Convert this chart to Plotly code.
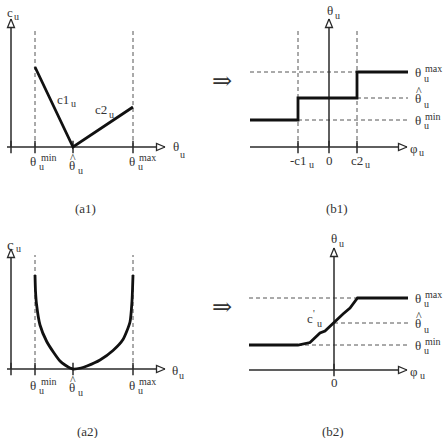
import plotly.graph_objects as go

# ---------------- data ----------------
# (a1) piecewise-linear cost c_u(theta_u)
a_tick_vals = [2.4, 6.2, 12.2]            # theta_min, theta_hat, theta_max
a1_cost_theta = [2.4, 6.2, 12.2]
a1_cost_val = [8.0, 0.0, 4.0]
a1_guide_top = 11.7
a1_xaxis_span = [-0.4, 15.4]
a1_yaxis_top = 12.8

# (a2) smooth (barrier-like) cost
a2_cost_theta = [2.4, 2.45, 2.55, 2.9, 3.57, 4.3, 4.9, 5.4, 5.9, 6.2,
                 7.0, 7.6, 8.9, 10.2, 11.2, 11.9, 12.1, 12.2]
a2_cost_val = [9.4, 7.8, 6.5, 4.4, 2.75, 1.6, 0.8, 0.4, 0.1, 0.0,
               0.1, 0.3, 0.9, 1.85, 2.95, 4.7, 6.8, 9.4]
a2_guide_top = 11.4
a2_xaxis_span = [-0.4, 15.4]
a2_yaxis_top = 12.0

# (b1) step response theta_u(phi_u)
b1_tick_vals = [-3.1, 0.0, 2.8]
b1_levels = [2.7, 4.9, 7.5]               # theta_min, theta_hat, theta_max
b1_step_phi = [-7.9, -3.1, -3.1, 2.8, 2.8, 7.9]
b1_step_theta = [2.7, 2.7, 4.9, 4.9, 7.5, 7.5]
b1_guide_top = 11.7
b1_xaxis_span = [-7.9, 7.8]
b1_yaxis_top = 12.8

# (b2) smooth response theta_u(phi_u)
b2_tick_vals = [0.0]
b2_levels = [2.5, 4.7, 7.2]
b2_curve_phi = [-8.5, -3.6, -2.4, -1.9, -1.4, -0.9, -0.4, 0.0, 0.3, 0.9,
                1.6, 2.1, 2.35, 7.4]
b2_curve_theta = [2.5, 2.5, 2.75, 3.2, 3.7, 3.9, 4.4, 4.75, 5.1, 5.6,
                  6.2, 6.8, 7.2, 7.2]
b2_xaxis_span = [-8.5, 7.3]
b2_yaxis_top = 12.2

# ---------------- layout / style ----------------
W, H = 446, 438
PX = 10.0                       # pixels per data unit
ORIGINS = {1: (11, 147), 2: (11, 369), 3: (329, 147), 4: (334, 370)}
SERIF = "Liberation Serif"
TXT = "#333333"
AX = "#2a2a2a"
DASH = "#555555"
CURVE = "#111111"

fig = go.Figure()
annotations = []


def ref(p):
    return ("x", "y") if p == 1 else (f"x{p}", f"y{p}")


def line(p, xs, ys, color=AX, width=1.5, dash=None, shape="linear"):
    xr, yr = ref(p)
    fig.add_trace(go.Scatter(x=xs, y=ys, mode="lines", xaxis=xr, yaxis=yr,
                             line=dict(color=color, width=width, dash=dash, shape=shape, smoothing=0.6),
                             hoverinfo="skip"))


def ticks(p, xs):
    xr, yr = ref(p)
    fig.add_trace(go.Scatter(x=xs, y=[0] * len(xs), mode="markers", xaxis=xr, yaxis=yr,
                             marker=dict(symbol="line-ns", size=9, color=AX,
                                         line=dict(color=AX, width=1.5)),
                             hoverinfo="skip"))


def arrow(p, x, y, direction):
    L, hw = 8.5 / PX, 3.5 / PX
    if direction == "up":
        xs = [x, x - hw, x + hw, x]
        ys = [y, y - L, y - L, y]
    else:
        xs = [x, x - L, x - L, x]
        ys = [y, y - hw, y + hw, y]
    xr, yr = ref(p)
    fig.add_trace(go.Scatter(x=xs, y=ys, mode="lines", fill="toself", fillcolor="white",
                             xaxis=xr, yaxis=yr, line=dict(color=AX, width=1.3),
                             hoverinfo="skip"))


def text(p, x, y, s, dx=0, dy=0, size=13, anchor="center", family=SERIF):
    xr, yr = ref(p)
    annotations.append(dict(xref=xr, yref=yr, x=x, y=y, text=s, showarrow=False,
                            xshift=dx, yshift=-dy, xanchor=anchor, yanchor="middle",
                            font=dict(family=family, size=size, color=TXT)))


def theta_label(p, x, y, dx, dy, sup=None, hat=False, sym="θ"):
    text(p, x, y, sym, dx, dy, 13)
    text(p, x, y, "u", dx + 4, dy + 5.5, 10, "left")
    if sup:
        text(p, x, y, sup, dx + 5.5, dy - 4, 10, "left")
    if hat:
        text(p, x, y, "^", dx + 1, dy - 7.5, 12)


def axes_frame(p, xspan, ytop, ybottom=0.0):
    line(p, [xspan[0], xspan[1]], [0, 0])
    line(p, [0, 0], [ybottom, ytop])
    arrow(p, xspan[1], 0, "right")
    arrow(p, 0, ytop, "up")


# ---------- (a1) ----------
for v in (a_tick_vals[0], a_tick_vals[2]):
    line(1, [v, v], [0, a1_guide_top], color=DASH, width=1, dash="4px,3px")
axes_frame(1, a1_xaxis_span, a1_yaxis_top)
ticks(1, [0.0] + a_tick_vals)
line(1, a1_cost_theta, a1_cost_val, color=CURVE, width=2.8)
text(1, 0, a1_yaxis_top, "c", -1.5, -6.5, 13)
text(1, 0, a1_yaxis_top, "u", 1, -3, 10, "left")
text(1, a1_xaxis_span[1], 0, "θ", 10.5, -0.5, 13)
text(1, a1_xaxis_span[1], 0, "u", 13, 7, 10, "left")
theta_label(1, a_tick_vals[0], 0, -2, 14, sup="min")
theta_label(1, a_tick_vals[1], 0, -1, 18, hat=True)
theta_label(1, a_tick_vals[2], 0, -1.5, 14, sup="max")
m1x = (a1_cost_theta[0] + a1_cost_theta[1]) / 2
m1y = (a1_cost_val[0] + a1_cost_val[1]) / 2
text(1, m1x, m1y, "c1", 8.5, -8, 13)
text(1, m1x, m1y, "u", 15, -4, 10, "left")
m2x = (a1_cost_theta[1] + a1_cost_theta[2]) / 2
m2y = (a1_cost_val[1] + a1_cost_val[2]) / 2
text(1, m2x, m2y, "c2", -2, -17.5, 13)
text(1, m2x, m2y, "u", 4, -13, 10, "left")

# ---------- (a2) ----------
for v in (a_tick_vals[0], a_tick_vals[2]):
    line(2, [v, v], [0, a2_guide_top], color=DASH, width=1, dash="4px,3px")
axes_frame(2, a2_xaxis_span, a2_yaxis_top)
ticks(2, [0.0] + a_tick_vals)
line(2, a2_cost_theta, a2_cost_val, color=CURVE, width=2.8, shape="spline")
text(2, 0, a2_yaxis_top, "c", -0.5, -4.5, 15)
text(2, 0, a2_yaxis_top, "u", 3, -0.5, 10, "left")
text(2, a2_xaxis_span[1], 0, "θ", 9.5, 1, 13)
text(2, a2_xaxis_span[1], 0, "u", 12, 6.5, 10, "left")
theta_label(2, a_tick_vals[0], 0, -2, 16, sup="min")
theta_label(2, a_tick_vals[1], 0, -1, 18, hat=True)
theta_label(2, a_tick_vals[2], 0, -1.5, 16, sup="max")

# ---------- (b1) ----------
lo, mid, hi = b1_levels
right_end = b1_step_phi[-1]
for v in (b1_tick_vals[0], b1_tick_vals[2]):
    line(3, [v, v], [0, b1_guide_top], color=DASH, width=1, dash="4px,3px")
line(3, [b1_xaxis_span[0], b1_tick_vals[2]], [hi, hi], color=DASH, width=1, dash="4px,3px")
line(3, [b1_tick_vals[2], right_end], [mid, mid], color=DASH, width=1, dash="4px,3px")
line(3, [b1_tick_vals[0], right_end], [lo, lo], color=DASH, width=1, dash="4px,3px")
axes_frame(3, b1_xaxis_span, b1_yaxis_top)
ticks(3, b1_tick_vals)
line(3, b1_step_phi, b1_step_theta, color=CURVE, width=2.8)
text(3, 0, b1_yaxis_top, "θ", 0.5, -8.5, 13)
text(3, 0, b1_yaxis_top, "u", 3.5, -4, 10, "left")
text(3, b1_xaxis_span[1], 0, "φ", 6.5, 1.5, 13)
text(3, b1_xaxis_span[1], 0, "u", 10, 5.5, 10, "left")
text(3, b1_tick_vals[0], 0, "-c1", 0, 13, 13)
text(3, b1_tick_vals[0], 0, "u", 9, 17, 10, "left")
text(3, b1_tick_vals[1], 0, "0", 0, 13, 13)
text(3, b1_tick_vals[2], 0, "c2", 0, 13, 13)
text(3, b1_tick_vals[2], 0, "u", 6, 17, 10, "left")
theta_label(3, right_end, hi, 9.5, 0.5, sup="max")
theta_label(3, right_end, mid, 9.5, 0.5, hat=True)
theta_label(3, right_end, lo, 9.5, 0, sup="min")

# ---------- (b2) ----------
lo, mid, hi = b2_levels
right_end = b2_curve_phi[-1]
line(4, [b2_xaxis_span[0], b2_curve_phi[-2]], [hi, hi], color=DASH, width=1, dash="4px,3px")
line(4, [0.0, right_end], [mid, mid], color=DASH, width=1, dash="4px,3px")
line(4, [b2_curve_phi[1], right_end], [lo, lo], color=DASH, width=1, dash="4px,3px")
axes_frame(4, b2_xaxis_span, b2_yaxis_top)
ticks(4, b2_tick_vals)
line(4, b2_curve_phi, b2_curve_theta, color=CURVE, width=2.8)
text(4, 0, b2_yaxis_top, "θ", -0.5, -10, 13)
text(4, 0, b2_yaxis_top, "u", 2.5, -5, 10, "left")
text(4, b2_xaxis_span[1], 0, "φ", 7, 1.5, 13)
text(4, b2_xaxis_span[1], 0, "u", 10.5, 5.5, 10, "left")
text(4, b2_tick_vals[0], 0, "0", 0, 12, 13)
theta_label(4, right_end, hi, 9.5, 0, sup="max")
theta_label(4, right_end, mid, 9.5, 0.5, hat=True)
theta_label(4, right_end, lo, 9.5, 0, sup="min")
text(4, 0.0, b2_curve_theta[7], "c", -24, -4, 13)
text(4, 0.0, b2_curve_theta[7], "'", -20, -9, 10)
text(4, 0.0, b2_curve_theta[7], "u", -19, 1, 10, "left")

# ---------- captions and implication arrows ----------
for label, cx, cy in [("(a1)", 85, 208), ("(b1)", 337, 208), ("(a2)", 87, 431), ("(b2)", 333, 431)]:
    annotations.append(dict(xref="paper", yref="paper", x=cx / W, y=1 - cy / H, text=label,
                            showarrow=False, xanchor="center", yanchor="middle",
                            font=dict(family=SERIF, size=13, color=TXT)))
for cy in (80.5, 306.5):
    annotations.append(dict(xref="paper", yref="paper", x=222 / W, y=1 - cy / H, text="⇒",
                            showarrow=False, xanchor="center", yanchor="middle",
                            font=dict(family="DejaVu Serif", size=24, color=TXT)))

layout = dict(width=W, height=H, margin=dict(l=0, r=0, t=0, b=0),
              paper_bgcolor="white", plot_bgcolor="rgba(0,0,0,0)", showlegend=False,
              annotations=annotations)
for p, (ox, oy) in ORIGINS.items():
    xk = "xaxis" if p == 1 else f"xaxis{p}"
    yk = "yaxis" if p == 1 else f"yaxis{p}"
    xr, yr = ref(p)
    layout[xk] = dict(domain=[0, 1], range=[-ox / PX, (W - ox) / PX], visible=False,
                      fixedrange=True, anchor=yr)
    layout[yk] = dict(domain=[0, 1], range=[-(H - oy) / PX, oy / PX], visible=False,
                      fixedrange=True, anchor=xr)
fig.update_layout(**layout)
fig.write_html("out.html")
